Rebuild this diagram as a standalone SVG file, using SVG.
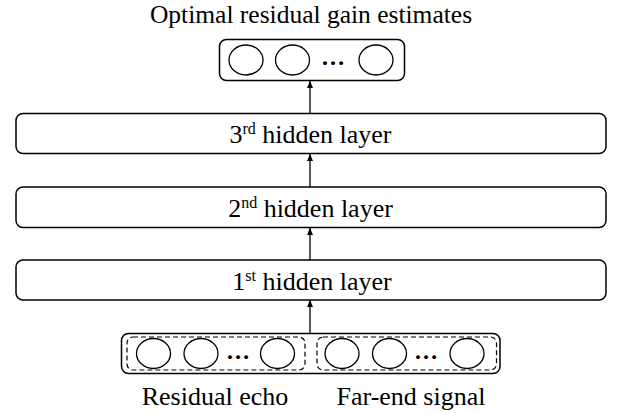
<svg xmlns="http://www.w3.org/2000/svg" width="617" height="414" viewBox="0 0 617 414">
<defs>
<marker id="ah" markerWidth="8" markerHeight="8" refX="7" refY="4" orient="auto" markerUnits="userSpaceOnUse">
<path d="M0,1 L7,4 L0,7 Z" fill="#000"/>
</marker>
<style>
.box{fill:#fff;stroke:#000;stroke-width:1.5}
.dash{fill:none;stroke:#000;stroke-width:1.2;stroke-dasharray:5,3}
.c{fill:#fff;stroke:#000;stroke-width:1.3}
.t{font-family:"Liberation Serif","Times New Roman",serif;font-size:26px;fill:#000}
.sup{font-size:16px}
.dots{font-family:"Liberation Serif",serif;font-size:24px;font-weight:bold;fill:#000}
.conn{stroke:#000;stroke-width:1.3;fill:none}
</style>
</defs>
<rect width="617" height="414" fill="#fff"/>
<text class="t" x="311" y="23" text-anchor="middle" style="font-size:25.5px">Optimal residual gain estimates</text>
<g id="connectors">
<line class="conn" x1="310" y1="113" x2="310" y2="81" marker-end="url(#ah)"/>
<line class="conn" x1="310" y1="187" x2="310" y2="154" marker-end="url(#ah)"/>
<line class="conn" x1="310" y1="260" x2="310" y2="228" marker-end="url(#ah)"/>
<line class="conn" x1="310" y1="333" x2="310" y2="300" marker-end="url(#ah)"/>
</g>
<g id="output">
<rect class="box" x="219.5" y="39.5" width="185" height="41" rx="7"/>
<ellipse class="c" cx="246" cy="60" rx="17" ry="15"/>
<ellipse class="c" cx="292.5" cy="60" rx="17" ry="15"/>
<text class="dots" x="333" y="65" text-anchor="middle">…</text>
<ellipse class="c" cx="376" cy="60" rx="17" ry="15"/>
</g>
<g id="layer3">
<rect class="box" x="16" y="113.5" width="590" height="40" rx="7"/>
<text class="t" x="310.5" y="143" text-anchor="middle">3<tspan class="sup" dy="-9">rd</tspan><tspan dy="9"> hidden layer</tspan></text>
</g>
<g id="layer2">
<rect class="box" x="16" y="187" width="590" height="40.5" rx="7"/>
<text class="t" x="310.5" y="217" text-anchor="middle">2<tspan class="sup" dy="-9">nd</tspan><tspan dy="9"> hidden layer</tspan></text>
</g>
<g id="layer1">
<rect class="box" x="16" y="260" width="590" height="40" rx="7"/>
<text class="t" x="312" y="290" text-anchor="middle">1<tspan class="sup" dy="-9">st</tspan><tspan dy="9"> hidden layer</tspan></text>
</g>
<g id="input">
<rect class="box" x="121.5" y="333.5" width="378.5" height="40" rx="7"/>
<rect class="dash" x="127" y="337" width="178" height="33" rx="6"/>
<rect class="dash" x="317" y="337" width="179.5" height="33" rx="6"/>
<ellipse class="c" cx="153.5" cy="353.5" rx="17" ry="15"/>
<ellipse class="c" cx="201" cy="353.5" rx="17" ry="15"/>
<text class="dots" x="238" y="358.5" text-anchor="middle">…</text>
<ellipse class="c" cx="277.5" cy="353.5" rx="17" ry="15"/>
<ellipse class="c" cx="342" cy="353.5" rx="17" ry="15"/>
<ellipse class="c" cx="389.5" cy="353.5" rx="17" ry="15"/>
<text class="dots" x="426" y="358.5" text-anchor="middle">…</text>
<ellipse class="c" cx="467" cy="353.5" rx="17" ry="15"/>
</g>
<text class="t" x="215" y="405" text-anchor="middle">Residual echo</text>
<text class="t" x="411" y="405" text-anchor="middle">Far-end signal</text>
</svg>
